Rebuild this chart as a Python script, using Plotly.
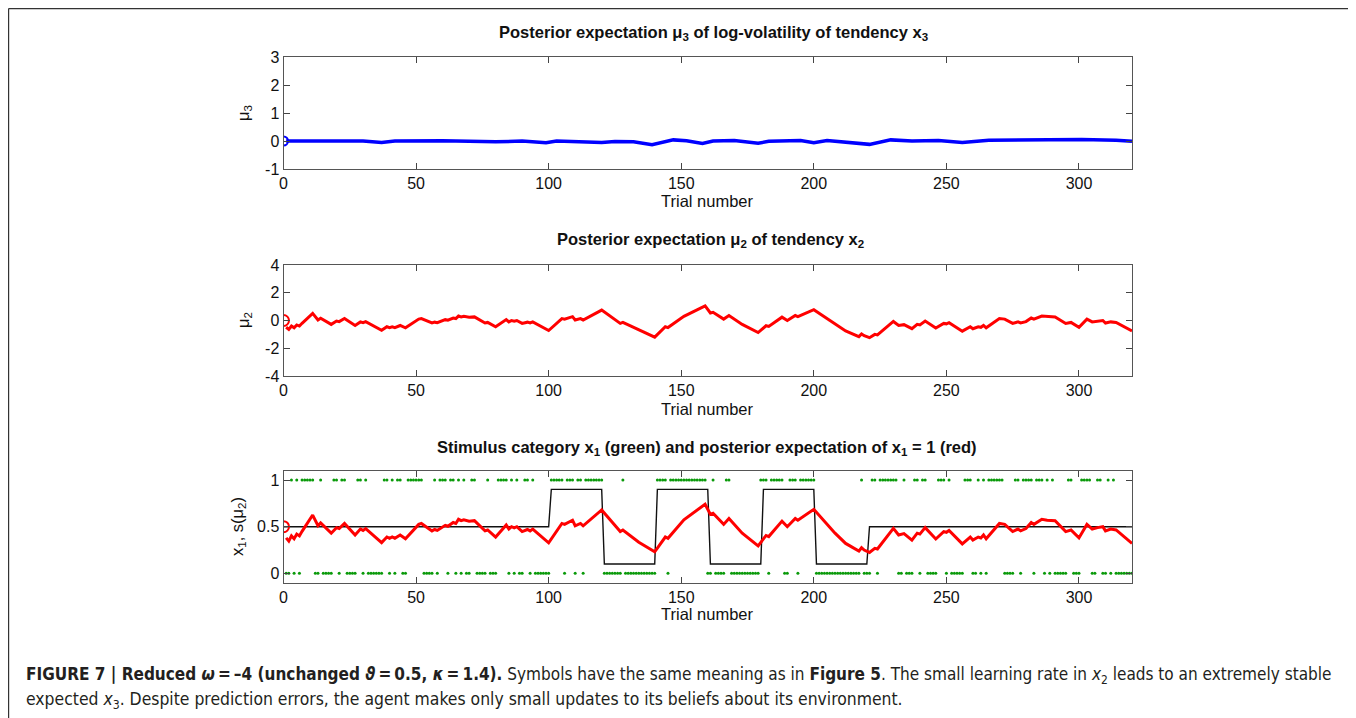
import math
import plotly.graph_objects as go
from plotly.subplots import make_subplots

# ---------------- data ----------------
mu3_trials = [1, 10, 30, 37, 42, 60, 80, 90, 99, 103, 120, 125, 132, 139, 147, 152, 158, 162, 170,
              179, 183, 195, 200, 205, 211, 221, 229, 237, 247, 256, 266, 283, 301, 314, 320]
mu3_vals = [0.0, 0.0, 0.0, -0.05, 0.0, 0.01, -0.03, 0.0, -0.06, 0.0, -0.05, -0.02, -0.03, -0.13, 0.04,
            0.01, -0.09, 0.0, 0.02, -0.08, -0.01, 0.02, -0.06, 0.02, -0.04, -0.12, 0.04, 0.0, 0.02,
            -0.05, 0.03, 0.05, 0.05, 0.03, -0.01]

mu2_trials = [1, 2, 3, 4, 5, 6, 7, 11, 13, 14, 18, 20, 21, 23, 27, 29, 30, 31, 37, 39, 40, 41, 42, 44, 46,
              51, 52, 56, 57, 58, 61, 62, 64, 65, 66, 67, 68, 70, 72, 76, 77, 80, 84, 85, 86, 87, 88, 90,
              92, 93, 94, 100, 105, 106, 109, 110, 112, 113, 120, 127, 128, 134, 140, 144, 145, 151, 159,
              161, 162, 166, 168, 173, 179, 182, 183, 188, 190, 193, 194, 200, 208, 212, 217, 218, 219,
              221, 223, 224, 230, 232, 234, 237, 239, 240, 242, 246, 249, 250, 251, 256, 259, 260, 262,
              263, 264, 265, 270, 272, 275, 277, 278, 280, 282, 283, 286, 288, 291, 295, 297, 300, 303,
              305, 307, 309, 310, 312, 314, 320]
mu2_vals = [-0.49, -0.64, -0.40, -0.53, -0.32, -0.40, -0.20, 0.51, 0.04, 0.16, -0.28, -0.04, -0.08, 0.14,
            -0.36, -0.10, -0.16, -0.08, -0.71, -0.45, -0.51, -0.45, -0.51, -0.36, -0.53, 0.10, 0.14,
            -0.18, -0.12, -0.16, 0.06, 0.02, 0.18, 0.14, 0.32, 0.26, 0.30, 0.24, 0.26, -0.18, -0.14,
            -0.45, 0.07, -0.10, 0.0, -0.05, 0.0, -0.21, -0.12, -0.18, -0.10, -0.72, 0.14, 0.10, 0.28,
            0.04, 0.14, 0.04, 0.75, -0.21, -0.14, -0.69, -1.20, -0.45, -0.51, 0.30, 1.05, 0.54, 0.59,
            0.10, 0.36, -0.28, -0.87, -0.38, -0.43, 0.24, 0.0, 0.36, 0.28, 0.78, -0.28, -0.75, -1.16,
            -0.97, -1.10, -1.24, -1.00, -1.04, -0.07, -0.36, -0.30, -0.59, -0.28, -0.32, -0.04, -0.54,
            -0.21, -0.24, -0.16, -0.77, -0.45, -0.59, -0.45, -0.49, -0.36, -0.53, 0.14, 0.10, -0.21,
            -0.10, -0.18, -0.08, 0.18, 0.10, 0.32, 0.28, 0.26, -0.21, -0.14, -0.49, 0.10, -0.10, -0.04,
            0.0, -0.18, -0.10, -0.14, -0.75]

x1_codes = ["0010101111", "1001000011", "0110000110", "1000000110", "1011001111",
            "1100001011", "1011010100", "1100001000", "1111010100", "1101000000",
            "1111101110", "1101111111", "0000000100", "0000000000", "1111011111",
            "1111111110", "0100001100", "0000000001", "1101111100", "1110111111",
            "0000000000", "0000000100", "0110111111", "1001000110", "1100001110",
            "1000001110", "0101011111", "1000011011", "1101110101", "0000011000",
            "1111001100", "1010000000"]

p_trials = [0, 100, 101, 120, 121, 140, 141, 160, 161, 180, 181, 200, 201, 220, 221, 320]
p_vals = [0.5, 0.5, 0.9, 0.9, 0.1, 0.1, 0.9, 0.9, 0.1, 0.1, 0.9, 0.9, 0.1, 0.1, 0.5, 0.5]

mu3_prior = 0.0
mu2_prior = 0.0

x_ticks = [0, 50, 100, 150, 200, 250, 300]

# ---------------- derived ----------------
x1 = [int(c) for code in x1_codes for c in code]
x1_trials = list(range(1, len(x1) + 1))
s_mu2 = [1.0 / (1.0 + math.exp(-v)) for v in mu2_vals]
s_prior = 1.0 / (1.0 + math.exp(-mu2_prior))

# page body has an 8px margin: size the figure so it fills the window exactly
OFF = 8
W, H = 1356 - OFF, 718 - OFF
def fx(px):
    return (px - OFF) / W
def fy(py):
    return 1 - (py - OFF) / H

fig = make_subplots(rows=3, cols=1)

BLUE = "#0000ff"
RED = "#ff0000"
GREEN = "#0a9a0a"

fig.add_trace(go.Scatter(x=mu3_trials, y=mu3_vals, mode="lines",
                         line=dict(color=BLUE, width=3.5), showlegend=False), row=1, col=1)
fig.add_trace(go.Scatter(x=[0], y=[mu3_prior], mode="markers",
                         marker=dict(symbol="circle-open", size=9, color=BLUE, line=dict(width=2)),
                         showlegend=False), row=1, col=1)
fig.add_trace(go.Scatter(x=mu2_trials, y=mu2_vals, mode="lines",
                         line=dict(color=RED, width=3), showlegend=False), row=2, col=1)
fig.add_trace(go.Scatter(x=[0], y=[mu2_prior], mode="markers",
                         marker=dict(symbol="circle-open", size=11, color=RED, line=dict(width=2)),
                         showlegend=False), row=2, col=1)
fig.add_trace(go.Scatter(x=x1_trials, y=x1, mode="markers",
                         marker=dict(symbol="circle", size=3, color=GREEN),
                         showlegend=False), row=3, col=1)
fig.add_trace(go.Scatter(x=p_trials, y=p_vals, mode="lines",
                         line=dict(color="#111111", width=1.4), showlegend=False), row=3, col=1)
fig.add_trace(go.Scatter(x=mu2_trials, y=s_mu2, mode="lines",
                         line=dict(color=RED, width=3), showlegend=False), row=3, col=1)
fig.add_trace(go.Scatter(x=[0], y=[s_prior], mode="markers",
                         marker=dict(symbol="circle-open", size=11, color=RED, line=dict(width=2)),
                         showlegend=False), row=3, col=1)

TICKFONT = dict(family="Liberation Sans, Arial, sans-serif", size=16, color="#111111")
xdom = [fx(283.5), fx(1132)]
ydoms = [[fy(169), fy(57)], [fy(376), fy(265)], [fy(582.7), fy(470.7)]]
yranges = [[-1, 3], [-4, 4], [-0.1, 1.1]]
yticks = [[-1, 0, 1, 2, 3], [-4, -2, 0, 2, 4], [0, 0.5, 1]]

for i in range(3):
    xa = "xaxis" if i == 0 else f"xaxis{i+1}"
    ya = "yaxis" if i == 0 else f"yaxis{i+1}"
    fig.layout[xa].update(domain=xdom, range=[0, 320], tickvals=x_ticks, ticks="inside",
                          ticklen=6, tickcolor="#444", showline=True, linecolor="#555",
                          linewidth=1, mirror="ticks", showgrid=False, zeroline=False,
                          tickfont=TICKFONT, automargin=False)
    fig.layout[ya].update(domain=ydoms[i], range=yranges[i], tickvals=yticks[i],
                          ticktext=[("%g" % v) for v in yticks[i]], ticks="inside",
                          ticklen=6, tickcolor="#444", showline=True, linecolor="#555",
                          linewidth=1, mirror="ticks", showgrid=False, zeroline=False,
                          tickfont=TICKFONT, automargin=False)

TITLEFONT = dict(family="Liberation Sans, Arial, sans-serif", size=16.5, color="#111111")
LABFONT = dict(family="Liberation Sans, Arial, sans-serif", size=16.5, color="#111111")

ann = []
def add(text, x, y, font, angle=0, xanchor="center"):
    ann.append(dict(text=text, x=fx(x), y=fy(y), xref="paper", yref="paper",
                    showarrow=False, font=font, textangle=angle, xanchor=xanchor,
                    yanchor="middle"))

add("<b>Posterior expectation μ<sub>3</sub> of log-volatility of tendency x<sub>3</sub></b>", 713, 33, TITLEFONT)
add("<b>Posterior expectation μ<sub>2</sub> of tendency x<sub>2</sub></b>", 710, 240, TITLEFONT)
add("<b>Stimulus category x<sub>1</sub> (green) and posterior expectation of x<sub>1</sub> = 1 (red)</b>", 707, 448, TITLEFONT)
for yy in (201, 409, 614):
    add("Trial number", 707, yy, LABFONT)
add("μ<sub>3</sub>", 244, 113, LABFONT, angle=-90)
add("μ<sub>2</sub>", 244, 320, LABFONT, angle=-90)
add("x<sub>1</sub>, s(μ<sub>2</sub>)", 238, 527, LABFONT, angle=-90)

CAPFAM = "Liberation Sans Narrow, Arial Narrow, DejaVu Sans Condensed, sans-serif"
add("<b>FIGURE 7 | Reduced <i>ω</i>\u2009=\u2009–4 (unchanged <i>ϑ</i>\u2009=\u20090.5, <i>κ</i>\u2009=\u20091.4).</b> "
    "Symbols have the same meaning as in <b>Figure 5</b>. The small learning rate in <i>x</i><sub>2</sub> "
    "leads to an extremely stable",
    24, 675, dict(family=CAPFAM, size=17.05, color="#231f20"), xanchor="left")
add("expected <i>x</i><sub>3</sub>. Despite prediction errors, the agent makes only small updates to its "
    "beliefs about its environment.", 24, 700, dict(family=CAPFAM, size=17.4, color="#231f20"),
    xanchor="left")

shapes = [
    dict(type="line", xref="paper", yref="paper", x0=fx(8.6), x1=fx(1349), y0=fy(8.6), y1=fy(8.6),
         line=dict(color="#333", width=1.2)),
    dict(type="line", xref="paper", yref="paper", x0=fx(8.6), x1=fx(8.6), y0=fy(8.6), y1=0,
         line=dict(color="#333", width=1.2)),
    dict(type="line", xref="paper", yref="paper", x0=fx(1349), x1=fx(1349), y0=fy(8.6), y1=0,
         line=dict(color="#333", width=1.2)),
]

fig.update_layout(width=W, height=H, autosize=False,
                  margin=dict(l=0, r=0, t=0, b=0, pad=0, autoexpand=False),
                  paper_bgcolor="white", plot_bgcolor="white", annotations=ann, shapes=shapes,
                  showlegend=False)

fig.write_html("out.html")
